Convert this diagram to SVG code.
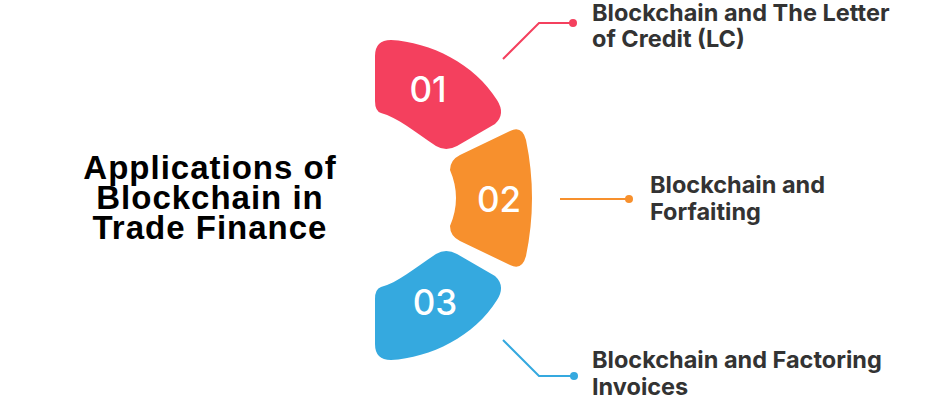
<svg xmlns="http://www.w3.org/2000/svg" width="940" height="400" viewBox="0 0 940 400">
<style>
.num{font-family:Inter,"Liberation Sans",sans-serif;font-weight:500;font-size:35px;fill:#fff;text-anchor:middle}
.lbl{font-family:Inter,"Liberation Sans",sans-serif;font-weight:700;font-size:23.5px;fill:#333333}
.title{font-family:"Liberation Sans",Arial,sans-serif;font-weight:700;font-size:33px;letter-spacing:1px;fill:#000;text-anchor:middle}
.conn{fill:none;stroke-width:2}
</style>
<rect width="940" height="400" fill="#fff"/>
<g id="title">
<text class="title" x="210" y="179">Applications of</text>
<text class="title" x="210" y="209">Blockchain in</text>
<text class="title" x="210" y="239">Trade Finance</text>
</g>
<g id="connectors">
<polyline class="conn" stroke="#F4405E" points="503,59 539,23 573,23"/>
<circle cx="573" cy="23" r="4" fill="#F4405E"/>
<line class="conn" stroke="#F7902D" x1="560" y1="199" x2="629" y2="199"/>
<circle cx="629" cy="199" r="4" fill="#F7902D"/>
<polyline class="conn" stroke="#35A9DF" points="503,340 539,376 574,376"/>
<circle cx="574" cy="376" r="4" fill="#35A9DF"/>
</g>
<g id="node1">
<path fill="#F4405E" d="M375 56 Q375 40 391 40 C430 42 475 64 497 100 Q506 114 495 124 L457 146 Q446 152 436 146 C415 132 397 117 381 113 Q375 111 375 101 Z"/>
<text class="num" x="428" y="102">01</text>
</g>
<g id="node2">
<path fill="#F7902D" d="M450 170 Q450 160 460 155 L510 131 Q522 125 526 140 Q538 198 526 256 Q522 271 510 265 L460 241 Q450 236 450 226 Q462 198 450 170 Z"/>
<text class="num" x="499" y="212">02</text>
</g>
<g id="node3">
<path fill="#35A9DF" d="M375 344 Q375 360 391 360 C430 358 475 336 497 300 Q506 286 495 276 L457 254 Q446 248 436 254 C415 268 397 283 381 287 Q375 289 375 299 Z"/>
<text class="num" x="435" y="315">03</text>
</g>
<g id="label1">
<text class="lbl" x="592" y="21">Blockchain and The Letter</text>
<text class="lbl" x="592" y="47">of Credit (LC)</text>
</g>
<g id="label2">
<text class="lbl" x="650" y="193">Blockchain and</text>
<text class="lbl" x="650" y="220">Forfaiting</text>
</g>
<g id="label3">
<text class="lbl" x="592" y="368">Blockchain and Factoring</text>
<text class="lbl" x="592" y="395">Invoices</text>
</g>
</svg>
